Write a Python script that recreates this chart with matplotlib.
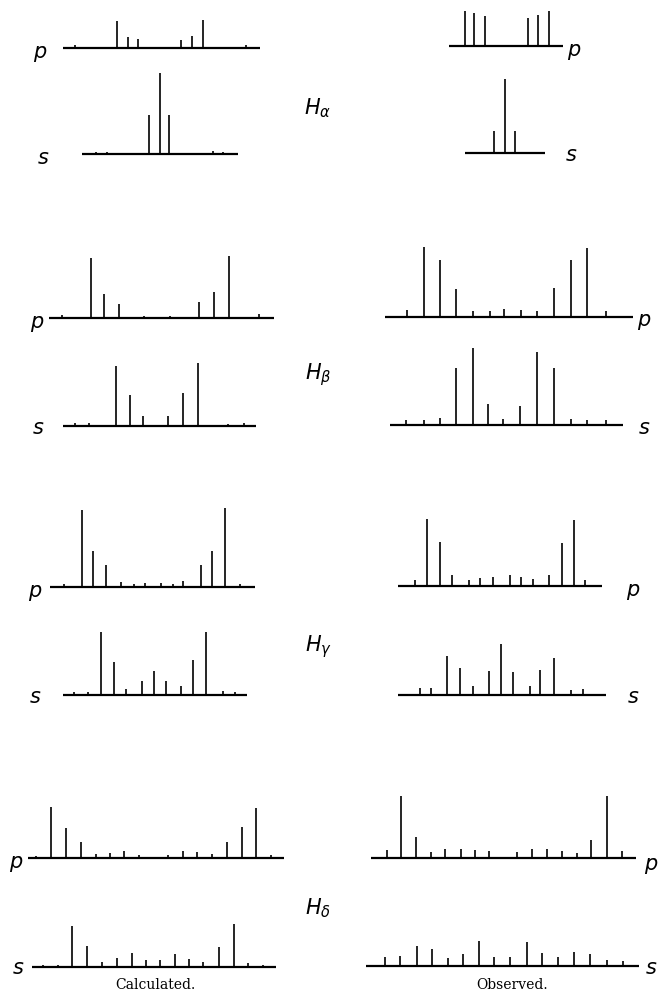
import matplotlib
matplotlib.use('Agg')
import matplotlib.pyplot as plt

W, H = 661, 1004

# Stark components: displacement from the line centre and intensity (both)
ha_calc_p_pos = [-85, -43, -32, -22, 21, 32, 43, 86]
ha_calc_p_int = [3, 27, 11, 9, 8, 12, 28, 3]
ha_calc_s_pos = [-64, -53, -11, 0, 9, 53, 63]
ha_calc_s_int = [2, 2, 39, 81, 39, 3, 2]
ha_obs_p_pos = [-42, -33, -22, 21, 31, 42]
ha_obs_p_int = [35, 33, 30, 28, 31, 35]
ha_obs_s_pos = [-11, 0, 10]
ha_obs_s_int = [22, 74, 22]

hb_calc_p_pos = [-98, -69, -56, -41, -16, 10, 39, 54, 69, 99]
hb_calc_p_int = [3, 60, 24, 14, 2, 2, 16, 26, 62, 4]
hb_calc_s_pos = [-82, -68, -41, -27, -14, 11, 26, 41, 71, 87]
hb_calc_s_int = [3, 3, 60, 31, 10, 10, 33, 63, 2, 3]
hb_obs_p_pos = [-98, -81, -65, -49, -32, -15, -1, 16, 32, 49, 66, 82, 101]
hb_obs_p_int = [7, 70, 57, 28, 6, 6, 8, 7, 6, 29, 57, 69, 6]
hb_obs_s_pos = [-99, -81, -65, -49, -32, -17, -2, 15, 32, 49, 66, 82, 101]
hb_obs_s_int = [5, 5, 7, 57, 77, 21, 6, 19, 73, 57, 6, 5, 5]

hg_calc_p_pos = [-89, -71, -60, -47, -32, -19, -8, 8, 20, 30, 48, 59, 72, 87]
hg_calc_p_int = [3, 77, 36, 22, 5, 3, 4, 4, 3, 6, 22, 36, 79, 3]
hg_calc_s_pos = [-80, -66, -53, -40, -28, -12, 0, 12, 27, 39, 52, 69, 81]
hg_calc_s_int = [3, 3, 63, 33, 6, 14, 24, 14, 9, 35, 63, 4, 3]
hg_obs_p_pos = [-85, -73, -60, -48, -31, -20, -7, 10, 21, 33, 49, 62, 74, 85]
hg_obs_p_int = [6, 67, 44, 11, 6, 8, 9, 11, 9, 7, 11, 43, 66, 6]
hg_obs_s_pos = [-81, -70, -54, -41, -28, -12, 0, 12, 29, 39, 53, 70, 82]
hg_obs_s_int = [7, 7, 39, 27, 9, 24, 51, 23, 9, 25, 37, 5, 6]

hd_calc_p_pos = [-117, -102, -87, -72, -57, -43, -29, -14, 15, 30, 44, 59, 74, 89, 103, 118]
hd_calc_p_int = [2, 51, 30, 16, 4, 5, 7, 3, 3, 7, 6, 4, 16, 31, 50, 3]
hd_calc_s_pos = [-110, -95, -81, -66, -51, -36, -21, -7, 7, 22, 36, 50, 66, 81, 95, 110]
hd_calc_s_int = [2, 2, 41, 21, 5, 9, 14, 7, 7, 13, 8, 5, 20, 43, 4, 2]
hd_obs_p_pos = [-117, -103, -88, -73, -59, -43, -29, -15, 13, 28, 43, 58, 73, 87, 103, 118]
hd_obs_p_int = [8, 62, 21, 6, 9, 9, 8, 7, 6, 9, 9, 7, 5, 18, 62, 7]
hd_obs_s_pos = [-119, -104, -87, -72, -56, -41, -25, -10, 6, 23, 38, 54, 70, 86, 103, 119]
hd_obs_s_int = [9, 10, 20, 17, 8, 12, 25, 9, 9, 24, 13, 9, 14, 12, 6, 5]

line_names = [r'$H_\alpha$', r'$H_\beta$', r'$H_\gamma$', r'$H_\delta$']

plt.rcParams['mathtext.fontset'] = 'dejavusans'
fig = plt.figure(figsize=(W / 100, H / 100), dpi=100)
fig.patch.set_facecolor('white')


def spectrum(cx, base, pos, inten, left, right):
    # one pattern in its own axes, x = displacement, y = intensity
    ax = fig.add_axes([(cx + left) / W, 1 - base / H, (right - left) / W, 100 / H])
    ax.set_xlim(left, right)
    ax.set_ylim(0, 100)
    ax.axis('off')
    ax.vlines(pos, 0, inten, color='black', lw=1.2, clip_on=False)
    ax.hlines(0, left, right, color='black', lw=1.6, clip_on=False)
    return ax


def label(x, y, s, **kw):
    fig.text(x / W, 1 - y / H, s, ha='center', va='center', **kw)


# H alpha
spectrum(160, 49, ha_calc_p_pos, ha_calc_p_int, -97, 100)
spectrum(160, 155, ha_calc_s_pos, ha_calc_s_int, -78, 78)
spectrum(507, 47, ha_obs_p_pos, ha_obs_p_int, -58, 56)
spectrum(505, 154, ha_obs_s_pos, ha_obs_s_int, -40, 40)
# H beta
spectrum(160, 319, hb_calc_p_pos, hb_calc_p_int, -111, 114)
spectrum(157, 427, hb_calc_s_pos, hb_calc_s_int, -94, 99)
spectrum(505, 318, hb_obs_p_pos, hb_obs_p_int, -120, 128)
spectrum(505, 426, hb_obs_s_pos, hb_obs_s_int, -115, 118)
# H gamma
spectrum(153, 588, hg_calc_p_pos, hg_calc_p_int, -103, 102)
spectrum(154, 696, hg_calc_s_pos, hg_calc_s_int, -91, 93)
spectrum(500, 587, hg_obs_p_pos, hg_obs_p_int, -102, 102)
spectrum(501, 696, hg_obs_s_pos, hg_obs_s_int, -103, 105)
# H delta
spectrum(153, 859, hd_calc_p_pos, hd_calc_p_int, -125, 131)
spectrum(153, 968, hd_calc_s_pos, hd_calc_s_int, -121, 123)
spectrum(504, 859, hd_obs_p_pos, hd_obs_p_int, -133, 132)
spectrum(504, 967, hd_obs_s_pos, hd_obs_s_int, -138, 135)

lab = dict(fontsize=15, style='italic', family='DejaVu Sans')
p_marks = [(40, 52), (574, 50), (37, 322), (644, 320), (35, 591), (633, 590), (16, 862), (651, 864)]
s_marks = [(43, 158), (571, 155), (38, 428), (644, 428), (35, 697), (633, 697), (18, 968), (651, 968)]
for x, y in p_marks:
    label(x, y, 'p', **lab)
for x, y in s_marks:
    label(x, y, 's', **lab)

for name, y in zip(line_names, [108, 375, 647, 908]):
    label(318, y, name, fontsize=15)

label(155, 985, 'Calculated.', fontsize=10, family='DejaVu Serif')
label(512, 985, 'Observed.', fontsize=10, family='DejaVu Serif')

fig.savefig('out.png', dpi=100)
